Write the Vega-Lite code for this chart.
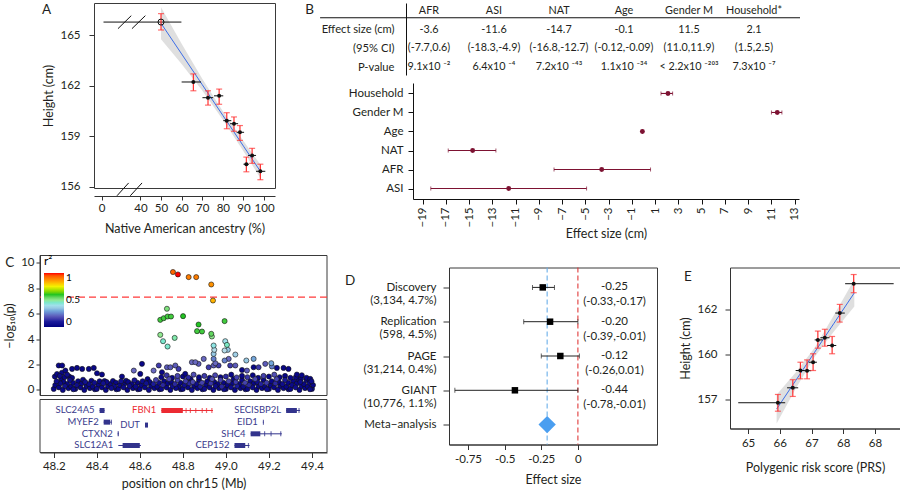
{
"$schema": "https://vega.github.io/schema/vega-lite/v6.json",
"padding": {"left": 0, "top": 0, "right": 0, "bottom": 0},
"bounds": "full",
"spacing": 6.5,
"config": {
  "font": "Lato",
  "view": {"stroke": "#3a3a3a", "strokeWidth": 1},
  "axis": {"grid": false, "labelFontSize": 11.5, "titleFontSize": 12.5, "titleFontWeight": "normal", "labelColor": "#231f20", "titleColor": "#231f20", "tickColor": "#333333", "domainColor": "#333333", "labelFont": "Lato", "titleFont": "Lato", "labelOverlap": false},
  "text": {"font": "Lato", "color": "#231f20"}
},
"datasets": {
  "bandA": [
    {"x": 50, "fit": 165.7, "lo": 164.75, "hi": 166.65},
    {"x": 60, "fit": 163.88, "lo": 163.28, "hi": 164.48},
    {"x": 70, "fit": 162.06, "lo": 161.71, "hi": 162.41},
    {"x": 80, "fit": 160.24, "lo": 159.99, "hi": 160.49},
    {"x": 90, "fit": 158.42, "lo": 158.12, "hi": 158.72},
    {"x": 98.2, "fit": 156.93, "lo": 156.53, "hi": 157.33}
  ],
  "ptsA": [
    {"x": 50, "y": 165.77, "xlo": 2, "xhi": 59.9, "ylo": 165.3, "yhi": 166.27, "open": true},
    {"x": 65.7, "y": 162.22, "xlo": 60, "xhi": 69.4, "ylo": 161.7, "yhi": 162.7, "open": false},
    {"x": 72.8, "y": 161.29, "xlo": 70.1, "xhi": 75.3, "ylo": 160.85, "yhi": 161.7, "open": false},
    {"x": 78.2, "y": 161.4, "xlo": 75.7, "xhi": 80.2, "ylo": 160.9, "yhi": 161.8, "open": false},
    {"x": 81.9, "y": 159.93, "xlo": 80.2, "xhi": 84.1, "ylo": 159.45, "yhi": 160.4, "open": false},
    {"x": 85.4, "y": 159.75, "xlo": 83.5, "xhi": 87.4, "ylo": 159.3, "yhi": 160.15, "open": false},
    {"x": 88.3, "y": 159.24, "xlo": 86.7, "xhi": 90.3, "ylo": 158.76, "yhi": 159.64, "open": false},
    {"x": 94.2, "y": 157.87, "xlo": 92.2, "xhi": 96.1, "ylo": 157.4, "yhi": 158.29, "open": false},
    {"x": 91.4, "y": 157.35, "xlo": 90, "xhi": 92.6, "ylo": 156.9, "yhi": 157.77, "open": false},
    {"x": 98.2, "y": 156.93, "xlo": 96.1, "xhi": 100.6, "ylo": 156.43, "yhi": 157.35, "open": false}
  ],
  "brkA": [
    {"x1": 16.9, "x2": 30.6, "y1": 165.38, "y2": 166.15},
    {"x1": 31.3, "x2": 42.4, "y1": 165.38, "y2": 166.15},
    {"x1": 15.9, "x2": 27.9, "y1": 155.48, "y2": 156.24},
    {"x1": 29.6, "x2": 40.8, "y1": 155.48, "y2": 156.24}
  ],
  "tab": [
    {"col": "AFR", "row": "hdr", "txt": "AFR"},
    {"col": "ASI", "row": "hdr", "txt": "ASI"},
    {"col": "NAT", "row": "hdr", "txt": "NAT"},
    {"col": "Age", "row": "hdr", "txt": "Age"},
    {"col": "Gender M", "row": "hdr", "txt": "Gender M"},
    {"col": "Household*", "row": "hdr", "txt": "Household*"},
    {"col": "AFR", "row": "Effect size (cm)", "txt": "-3.6"},
    {"col": "ASI", "row": "Effect size (cm)", "txt": "-11.6"},
    {"col": "NAT", "row": "Effect size (cm)", "txt": "-14.7"},
    {"col": "Age", "row": "Effect size (cm)", "txt": "-0.1"},
    {"col": "Gender M", "row": "Effect size (cm)", "txt": "11.5"},
    {"col": "Household*", "row": "Effect size (cm)", "txt": "2.1"},
    {"col": "AFR", "row": "(95% CI)", "txt": "(-7.7,0.6)"},
    {"col": "ASI", "row": "(95% CI)", "txt": "(-18.3,-4.9)"},
    {"col": "NAT", "row": "(95% CI)", "txt": "(-16.8,-12.7)"},
    {"col": "Age", "row": "(95% CI)", "txt": "(-0.12,-0.09)"},
    {"col": "Gender M", "row": "(95% CI)", "txt": "(11.0,11.9)"},
    {"col": "Household*", "row": "(95% CI)", "txt": "(1.5,2.5)"},
    {"col": "AFR", "row": "P-value", "txt": "9.1x10 ⁻²"},
    {"col": "ASI", "row": "P-value", "txt": "6.4x10 ⁻⁴"},
    {"col": "NAT", "row": "P-value", "txt": "7.2x10 ⁻⁴³"},
    {"col": "Age", "row": "P-value", "txt": "1.1x10 ⁻³⁴"},
    {"col": "Gender M", "row": "P-value", "txt": "< 2.2x10 ⁻²⁰³"},
    {"col": "Household*", "row": "P-value", "txt": "7.3x10 ⁻⁷"}
  ],
  "fB": [
    {"v": "Household", "est": 2.1, "lo": 1.5, "hi": 2.5},
    {"v": "Gender M", "est": 11.5, "lo": 11.0, "hi": 11.9},
    {"v": "Age", "est": -0.1, "lo": -0.12, "hi": -0.09},
    {"v": "NAT", "est": -14.7, "lo": -16.8, "hi": -12.7},
    {"v": "AFR", "est": -3.6, "lo": -7.7, "hi": 0.6},
    {"v": "ASI", "est": -11.6, "lo": -18.3, "hi": -4.9}
  ],
  "snp": [
    {"x":48.200,"y":0.08,"r":0.03},{"x":48.207,"y":0.38,"r":0.03},{"x":48.213,"y":0.68,"r":0.05},
    {"x":48.224,"y":0.20,"r":0.03},{"x":48.230,"y":0.52,"r":0.04},{"x":48.236,"y":0.85,"r":0.03},
    {"x":48.242,"y":0.00,"r":0.03},{"x":48.252,"y":0.30,"r":0.06},{"x":48.246,"y":0.62,"r":0.03},
    {"x":48.268,"y":0.14,"r":0.03},{"x":48.263,"y":0.46,"r":0.03},{"x":48.275,"y":0.78,"r":0.05},
    {"x":48.291,"y":0.05,"r":0.04},{"x":48.281,"y":0.26,"r":0.03},{"x":48.289,"y":0.56,"r":0.03},
    {"x":48.300,"y":0.08,"r":0.03},{"x":48.307,"y":0.38,"r":0.05},{"x":48.313,"y":0.68,"r":0.03},
    {"x":48.324,"y":0.20,"r":0.03},{"x":48.330,"y":0.52,"r":0.03},{"x":48.336,"y":0.80,"r":0.04},
    {"x":48.342,"y":0.00,"r":0.03},{"x":48.352,"y":0.30,"r":0.03},{"x":48.346,"y":0.62,"r":0.06},
    {"x":48.368,"y":0.14,"r":0.03},{"x":48.363,"y":0.46,"r":0.04},{"x":48.375,"y":0.72,"r":0.03},
    {"x":48.391,"y":0.05,"r":0.03},{"x":48.381,"y":0.26,"r":0.03},{"x":48.389,"y":0.56,"r":0.05},
    {"x":48.400,"y":0.08,"r":0.04},{"x":48.407,"y":0.38,"r":0.03},{"x":48.413,"y":0.68,"r":0.03},
    {"x":48.424,"y":0.20,"r":0.03},{"x":48.430,"y":0.52,"r":0.06},{"x":48.436,"y":0.70,"r":0.03},
    {"x":48.442,"y":0.00,"r":0.03},{"x":48.452,"y":0.30,"r":0.03},{"x":48.446,"y":0.62,"r":0.04},
    {"x":48.468,"y":0.14,"r":0.05},{"x":48.463,"y":0.46,"r":0.03},{"x":48.475,"y":0.70,"r":0.03},
    {"x":48.491,"y":0.05,"r":0.03},{"x":48.481,"y":0.26,"r":0.04},{"x":48.489,"y":0.56,"r":0.03},
    {"x":48.500,"y":0.08,"r":0.03},{"x":48.507,"y":0.38,"r":0.03},{"x":48.513,"y":0.68,"r":0.06},
    {"x":48.524,"y":0.20,"r":0.04},{"x":48.530,"y":0.52,"r":0.03},{"x":48.536,"y":0.72,"r":0.03},
    {"x":48.542,"y":0.00,"r":0.03},{"x":48.552,"y":0.30,"r":0.05},{"x":48.546,"y":0.62,"r":0.03},
    {"x":48.568,"y":0.14,"r":0.03},{"x":48.563,"y":0.46,"r":0.03},{"x":48.575,"y":0.75,"r":0.08},
    {"x":48.591,"y":0.05,"r":0.03},{"x":48.581,"y":0.26,"r":0.04},{"x":48.589,"y":0.56,"r":0.03},
    {"x":48.600,"y":0.08,"r":0.03},{"x":48.607,"y":0.38,"r":0.03},{"x":48.613,"y":0.68,"r":0.05},
    {"x":48.624,"y":0.20,"r":0.03},{"x":48.630,"y":0.52,"r":0.06},{"x":48.636,"y":0.85,"r":0.03},
    {"x":48.642,"y":0.00,"r":0.04},{"x":48.652,"y":0.30,"r":0.03},{"x":48.646,"y":0.62,"r":0.03},
    {"x":48.668,"y":0.14,"r":0.03},{"x":48.663,"y":0.46,"r":0.10},{"x":48.675,"y":0.78,"r":0.16},
    {"x":48.691,"y":0.05,"r":0.03},{"x":48.681,"y":0.26,"r":0.03},{"x":48.689,"y":0.56,"r":0.05},
    {"x":48.700,"y":0.08,"r":0.04},{"x":48.707,"y":0.38,"r":0.12},{"x":48.713,"y":0.68,"r":0.03},
    {"x":48.724,"y":0.20,"r":0.03},{"x":48.730,"y":0.52,"r":0.03},{"x":48.736,"y":0.85,"r":0.17},
    {"x":48.742,"y":0.00,"r":0.03},{"x":48.752,"y":0.30,"r":0.05},{"x":48.746,"y":0.62,"r":0.03},
    {"x":48.768,"y":0.14,"r":0.04},{"x":48.763,"y":0.46,"r":0.12},{"x":48.775,"y":0.78,"r":0.16},
    {"x":48.791,"y":0.05,"r":0.03},{"x":48.781,"y":0.26,"r":0.03},{"x":48.789,"y":0.56,"r":0.03},
    {"x":48.800,"y":0.08,"r":0.03},{"x":48.807,"y":0.38,"r":0.06},{"x":48.813,"y":0.68,"r":0.15},
    {"x":48.824,"y":0.20,"r":0.03},{"x":48.830,"y":0.52,"r":0.12},{"x":48.836,"y":0.85,"r":0.03},
    {"x":48.842,"y":0.00,"r":0.04},{"x":48.852,"y":0.30,"r":0.03},{"x":48.846,"y":0.62,"r":0.17},
    {"x":48.868,"y":0.14,"r":0.03},{"x":48.863,"y":0.46,"r":0.05},{"x":48.875,"y":0.78,"r":0.03},
    {"x":48.891,"y":0.05,"r":0.03},{"x":48.881,"y":0.26,"r":0.10},{"x":48.889,"y":0.56,"r":0.16},
    {"x":48.900,"y":0.08,"r":0.05},{"x":48.907,"y":0.38,"r":0.03},{"x":48.913,"y":0.68,"r":0.03},
    {"x":48.924,"y":0.20,"r":0.03},{"x":48.930,"y":0.52,"r":0.14},{"x":48.936,"y":0.85,"r":0.18},
    {"x":48.942,"y":0.00,"r":0.03},{"x":48.952,"y":0.30,"r":0.04},{"x":48.946,"y":0.62,"r":0.03},
    {"x":48.968,"y":0.14,"r":0.03},{"x":48.963,"y":0.46,"r":0.03},{"x":48.975,"y":0.78,"r":0.16},
    {"x":48.991,"y":0.05,"r":0.04},{"x":48.981,"y":0.26,"r":0.12},{"x":48.989,"y":0.56,"r":0.03},
    {"x":49.000,"y":0.08,"r":0.03},{"x":49.007,"y":0.38,"r":0.03},{"x":49.013,"y":0.68,"r":0.17},
    {"x":49.024,"y":0.20,"r":0.05},{"x":49.030,"y":0.52,"r":0.03},{"x":49.036,"y":0.85,"r":0.03},
    {"x":49.042,"y":0.00,"r":0.03},{"x":49.052,"y":0.30,"r":0.10},{"x":49.046,"y":0.62,"r":0.15},
    {"x":49.068,"y":0.14,"r":0.03},{"x":49.063,"y":0.46,"r":0.03},{"x":49.075,"y":0.78,"r":0.03},
    {"x":49.091,"y":0.05,"r":0.03},{"x":49.081,"y":0.26,"r":0.04},{"x":49.089,"y":0.56,"r":0.16},
    {"x":49.100,"y":0.08,"r":0.03},{"x":49.107,"y":0.38,"r":0.12},{"x":49.113,"y":0.68,"r":0.03},
    {"x":49.124,"y":0.20,"r":0.04},{"x":49.130,"y":0.52,"r":0.03},{"x":49.136,"y":0.85,"r":0.17},
    {"x":49.142,"y":0.00,"r":0.03},{"x":49.152,"y":0.30,"r":0.03},{"x":49.146,"y":0.62,"r":0.05},
    {"x":49.168,"y":0.14,"r":0.03},{"x":49.163,"y":0.46,"r":0.11},{"x":49.175,"y":0.78,"r":0.03},
    {"x":49.191,"y":0.05,"r":0.05},{"x":49.181,"y":0.26,"r":0.03},{"x":49.189,"y":0.56,"r":0.15},
    {"x":49.200,"y":0.08,"r":0.03},{"x":49.207,"y":0.38,"r":0.03},{"x":49.213,"y":0.68,"r":0.03},
    {"x":49.224,"y":0.20,"r":0.03},{"x":49.230,"y":0.52,"r":0.12},{"x":49.236,"y":0.85,"r":0.16},
    {"x":49.242,"y":0.00,"r":0.04},{"x":49.252,"y":0.30,"r":0.03},{"x":49.246,"y":0.62,"r":0.03},
    {"x":49.268,"y":0.14,"r":0.03},{"x":49.263,"y":0.46,"r":0.05},{"x":49.275,"y":0.78,"r":0.10},
    {"x":49.291,"y":0.05,"r":0.03},{"x":49.281,"y":0.26,"r":0.03},{"x":49.289,"y":0.56,"r":0.03},
    {"x":49.300,"y":0.08,"r":0.03},{"x":49.307,"y":0.38,"r":0.04},{"x":49.313,"y":0.68,"r":0.03},
    {"x":49.324,"y":0.20,"r":0.05},{"x":49.330,"y":0.52,"r":0.03},{"x":49.336,"y":0.85,"r":0.03},
    {"x":49.342,"y":0.00,"r":0.03},{"x":49.352,"y":0.30,"r":0.03},{"x":49.346,"y":0.62,"r":0.04},
    {"x":49.368,"y":0.14,"r":0.03},{"x":49.363,"y":0.46,"r":0.03},{"x":49.375,"y":0.78,"r":0.03},
    {"x":49.391,"y":0.05,"r":0.04},{"x":49.381,"y":0.26,"r":0.03},{"x":49.389,"y":0.56,"r":0.03},
    {"x":49.400,"y":0.08,"r":0.03},{"x":49.405,"y":0.38,"r":0.03},{"x":49.398,"y":0.68,"r":0.05},
    {"x":48.205,"y":1.05,"r":0.03},{"x":48.215,"y":1.25,"r":0.03},{"x":48.228,"y":1.10,"r":0.04},
    {"x":48.238,"y":1.35,"r":0.03},{"x":48.250,"y":1.00,"r":0.03},{"x":48.262,"y":1.20,"r":0.05},
    {"x":48.272,"y":1.05,"r":0.03},{"x":48.285,"y":0.95,"r":0.03},
    {"x":48.700,"y":1.00,"r":0.03},{"x":48.725,"y":1.15,"r":0.14},{"x":48.750,"y":0.95,"r":0.03},
    {"x":48.775,"y":1.10,"r":0.17},{"x":48.800,"y":1.05,"r":0.03},{"x":48.825,"y":0.98,"r":0.12},
    {"x":48.850,"y":1.20,"r":0.18},{"x":48.875,"y":1.00,"r":0.03},{"x":48.900,"y":1.10,"r":0.15},
    {"x":48.925,"y":0.95,"r":0.03},{"x":48.950,"y":1.15,"r":0.17},{"x":48.975,"y":1.00,"r":0.03},
    {"x":49.000,"y":1.05,"r":0.12},{"x":49.025,"y":1.20,"r":0.03},{"x":49.050,"y":0.98,"r":0.16},
    {"x":49.075,"y":1.10,"r":0.03},{"x":49.100,"y":1.00,"r":0.14},{"x":49.125,"y":1.15,"r":0.03},
    {"x":49.150,"y":0.95,"r":0.03},{"x":49.175,"y":1.10,"r":0.16},{"x":49.200,"y":1.05,"r":0.03},
    {"x":49.225,"y":1.20,"r":0.18},{"x":49.250,"y":1.00,"r":0.03},{"x":49.275,"y":1.10,"r":0.03},
    {"x":49.300,"y":0.95,"r":0.03},{"x":49.325,"y":1.00,"r":0.03},{"x":49.350,"y":0.90,"r":0.03},
    {"x":49.375,"y":0.95,"r":0.03},
    {"x":48.223,"y":1.92,"r":0.03},{"x":48.239,"y":1.92,"r":0.03},{"x":48.254,"y":1.52,"r":0.03},
    {"x":48.285,"y":1.65,"r":0.03},{"x":48.308,"y":1.73,"r":0.03},{"x":48.332,"y":1.65,"r":0.03},
    {"x":48.363,"y":1.65,"r":0.03},{"x":48.386,"y":1.73,"r":0.03},{"x":48.401,"y":1.31,"r":0.03},
    {"x":48.424,"y":1.21,"r":0.03},{"x":48.517,"y":1.05,"r":0.03},{"x":48.572,"y":1.52,"r":0.22},
    {"x":48.610,"y":2.05,"r":0.03},{"x":48.602,"y":1.26,"r":0.03},{"x":48.664,"y":1.52,"r":0.22},
    {"x":48.688,"y":1.92,"r":0.15},{"x":48.703,"y":1.39,"r":0.03},{"x":48.726,"y":1.78,"r":0.2},
    {"x":48.742,"y":1.78,"r":0.2},{"x":48.765,"y":1.92,"r":0.2},{"x":48.780,"y":1.65,"r":0.15},
    {"x":48.811,"y":1.26,"r":0.03},{"x":48.842,"y":2.18,"r":0.22},{"x":48.858,"y":2.18,"r":0.22},
    {"x":48.873,"y":2.05,"r":0.2},{"x":48.897,"y":2.44,"r":0.22},{"x":48.920,"y":1.78,"r":0.15},
    {"x":48.943,"y":1.92,"r":0.2},{"x":48.966,"y":1.92,"r":0.15},{"x":49.013,"y":2.44,"r":0.22},
    {"x":49.020,"y":1.92,"r":0.15},{"x":49.044,"y":1.92,"r":0.2},{"x":49.075,"y":1.57,"r":0.03},
    {"x":49.098,"y":1.52,"r":0.2},{"x":49.129,"y":1.78,"r":0.03},{"x":49.152,"y":1.78,"r":0.15},
    {"x":49.183,"y":2.05,"r":0.2},{"x":49.214,"y":1.84,"r":0.25},{"x":49.237,"y":1.73,"r":0.03},
    {"x":49.268,"y":1.73,"r":0.03},{"x":49.291,"y":1.65,"r":0.03},{"x":49.330,"y":1.21,"r":0.03},
    {"x":49.353,"y":1.15,"r":0.03},{"x":49.392,"y":0.87,"r":0.03},
    {"x":48.994,"y":2.31,"r":0.25},{"x":48.943,"y":2.44,"r":0.25},{"x":48.951,"y":2.10,"r":0.22},
    {"x":49.095,"y":2.31,"r":0.35},{"x":49.129,"y":2.44,"r":0.3},{"x":49.211,"y":2.10,"r":0.3},
    {"x":49.044,"y":2.78,"r":0.36},{"x":48.994,"y":3.10,"r":0.38},{"x":48.997,"y":3.83,"r":0.4},
    {"x":49.005,"y":3.54,"r":0.46},{"x":49.009,"y":3.15,"r":0.35},{"x":48.943,"y":3.49,"r":0.42},
    {"x":48.946,"y":3.15,"r":0.38},{"x":48.943,"y":2.83,"r":0.35},
    {"x":48.935,"y":4.20,"r":0.5},{"x":48.932,"y":4.41,"r":0.55},{"x":48.889,"y":4.59,"r":0.58},
    {"x":48.866,"y":4.62,"r":0.58},{"x":48.873,"y":5.14,"r":0.6},{"x":48.994,"y":5.41,"r":0.58},
    {"x":48.801,"y":5.80,"r":0.6},{"x":48.762,"y":4.09,"r":0.48},{"x":48.729,"y":3.41,"r":0.45},
    {"x":48.708,"y":3.83,"r":0.45},{"x":48.695,"y":4.33,"r":0.5},{"x":48.695,"y":5.51,"r":0.58},
    {"x":48.711,"y":5.64,"r":0.58},{"x":48.729,"y":5.77,"r":0.58},{"x":48.745,"y":5.77,"r":0.58},
    {"x":48.726,"y":6.38,"r":0.52},
    {"x":48.940,"y":7.03,"r":0.83},{"x":48.932,"y":8.29,"r":0.87},{"x":48.827,"y":8.87,"r":0.9},
    {"x":48.862,"y":8.87,"r":0.9},{"x":48.754,"y":9.27,"r":0.93},{"x":48.777,"y":9.08,"r":1.0}
  ],
  "genes": [
    {"g": "SLC24A5", "s": 48.413, "e": 48.436, "ds": 48.413, "de": 48.436, "track": 4},
    {"g": "FBN1", "s": 48.70, "e": 48.94, "ds": 48.70, "de": 48.80, "track": 4},
    {"g": "SECISBP2L", "s": 49.28, "e": 49.345, "ds": 49.28, "de": 49.33, "track": 4},
    {"g": "MYEF2", "s": 48.432, "e": 48.47, "ds": 48.432, "de": 48.462, "track": 3},
    {"g": "DUT", "s": 48.624, "e": 48.638, "ds": 48.624, "de": 48.638, "track": 2.75},
    {"g": "EID1", "s": 49.172, "e": 49.176, "ds": 49.172, "de": 49.176, "track": 3},
    {"g": "CTXN2", "s": 48.497, "e": 48.502, "ds": 48.497, "de": 48.502, "track": 2},
    {"g": "SHC4", "s": 49.115, "e": 49.26, "ds": 49.115, "de": 49.16, "track": 2},
    {"g": "SLC12A1", "s": 48.50, "e": 48.605, "ds": 48.52, "de": 48.60, "track": 1},
    {"g": "CEP152", "s": 49.04, "e": 49.11, "ds": 49.04, "de": 49.09, "track": 1}
  ],
  "exons": [
    {"g": "FBN1", "x": 48.815, "track": 4}, {"g": "FBN1", "x": 48.835, "track": 4},
    {"g": "FBN1", "x": 48.86, "track": 4}, {"g": "FBN1", "x": 48.89, "track": 4},
    {"g": "FBN1", "x": 48.91, "track": 4}, {"g": "FBN1", "x": 48.935, "track": 4},
    {"g": "SHC4", "x": 49.18, "track": 2}, {"g": "SHC4", "x": 49.21, "track": 2},
    {"g": "SHC4", "x": 49.255, "track": 2}, {"g": "SECISBP2L", "x": 49.34, "track": 4},
    {"g": "CEP152", "x": 49.105, "track": 1}, {"g": "MYEF2", "x": 48.468, "track": 3}
  ],
  "fD": [
    {"lab": "Discovery|(3,134, 4.7%)", "est": -0.24, "lo": -0.31, "hi": -0.16, "e": "-0.25", "ci": "(-0.33,-0.17)"},
    {"lab": "Replication|(598, 4.5%)", "est": -0.19, "lo": -0.37, "hi": 0.0, "e": "-0.20", "ci": "(-0.39,-0.01)"},
    {"lab": "PAGE|(31,214, 0.4%)", "est": -0.12, "lo": -0.25, "hi": 0.01, "e": "-0.12", "ci": "(-0.26,0.01)"},
    {"lab": "GIANT|(10,776, 1.1%)", "est": -0.43, "lo": -0.84, "hi": 0.0, "e": "-0.44", "ci": "(-0.78,-0.01)"}
  ],
  "metaD": [
    {"lab": "Meta−analysis", "est": -0.21}
  ],
  "bandE": [
    {"x": 65.9, "fit": 156.97, "lo": 156.17, "hi": 157.77},
    {"x": 66.5, "fit": 158.55, "lo": 158.1, "hi": 159.0},
    {"x": 67.1, "fit": 160.13, "lo": 159.88, "hi": 160.38},
    {"x": 67.7, "fit": 161.71, "lo": 161.26, "hi": 162.16},
    {"x": 68.35, "fit": 163.42, "lo": 162.67, "hi": 164.17}
  ],
  "ptsE": [
    {"x": 65.94, "y": 157.32, "xlo": 64.69, "xhi": 66.17, "ylo": 156.85, "yhi": 157.78},
    {"x": 66.41, "y": 158.15, "xlo": 66.23, "xhi": 66.58, "ylo": 157.67, "yhi": 158.6},
    {"x": 66.65, "y": 159.11, "xlo": 66.5, "xhi": 66.78, "ylo": 158.65, "yhi": 159.57},
    {"x": 66.86, "y": 159.1, "xlo": 66.75, "xhi": 66.99, "ylo": 158.65, "yhi": 159.7},
    {"x": 67.05, "y": 159.57, "xlo": 66.91, "xhi": 67.17, "ylo": 159.11, "yhi": 160.04},
    {"x": 67.2, "y": 160.81, "xlo": 67.1, "xhi": 67.35, "ylo": 160.35, "yhi": 161.3},
    {"x": 67.42, "y": 160.93, "xlo": 67.28, "xhi": 67.57, "ylo": 160.46, "yhi": 161.4},
    {"x": 67.65, "y": 160.5, "xlo": 67.49, "xhi": 67.78, "ylo": 160.04, "yhi": 161.0},
    {"x": 67.89, "y": 162.3, "xlo": 67.75, "xhi": 68.05, "ylo": 161.8, "yhi": 162.78},
    {"x": 68.33, "y": 163.93, "xlo": 68.06, "xhi": 69.59, "ylo": 163.43, "yhi": 164.44}
  ]
},
"vconcat": [
  {"hconcat": [
    {"width": 52, "height": 245, "view": {"stroke": null}, "data": {"values": [{"k": 0}]}, "mark": {"type": "point", "opacity": 0}},
    {"width": 181, "height": 185,
     "layer": [
       {"data": {"name": "bandA"}, "mark": {"type": "area", "color": "#c4c4c4", "opacity": 0.55},
        "encoding": {
          "x": {"field": "x", "type": "quantitative", "scale": {"domain": [-7.8, 40, 105.3], "range": [0, 46.4, 181], "nice": false, "zero": false},
                "axis": {"values": [0, 40, 50, 60, 70, 80, 90, 100], "format": "d", "tickCount": 20, "labelOverlap": false, "offset": 8, "tickSize": 4, "labelPadding": 2, "title": "Native American ancestry (%)", "titlePadding": 9}},
          "y": {"field": "lo", "type": "quantitative", "scale": {"domain": [155.94, 166.9], "nice": false, "zero": false},
                "axis": {"values": [156, 159, 162, 165], "format": "d", "tickCount": 20, "title": "Height (cm)", "domain": false, "tickSize": 5, "labelPadding": 9, "titlePadding": 4}},
          "y2": {"field": "hi"}}},
       {"data": {"name": "bandA"}, "mark": {"type": "line", "color": "#3d6ee8", "strokeWidth": 1},
        "encoding": {"x": {"field": "x", "type": "quantitative"}, "y": {"field": "fit", "type": "quantitative"}}},
       {"data": {"name": "ptsA"}, "mark": {"type": "rule", "color": "#111111", "strokeWidth": 1},
        "encoding": {"x": {"field": "xlo", "type": "quantitative"}, "x2": {"field": "xhi"}, "y": {"field": "y", "type": "quantitative"}}},
       {"data": {"name": "ptsA"}, "mark": {"type": "rule", "color": "#ff3030", "strokeWidth": 1.2},
        "encoding": {"x": {"field": "x", "type": "quantitative"}, "y": {"field": "ylo", "type": "quantitative"}, "y2": {"field": "yhi"}}},
       {"data": {"name": "ptsA"}, "mark": {"type": "tick", "orient": "horizontal", "size": 6, "thickness": 1.2, "color": "#ff3030"},
        "encoding": {"x": {"field": "x", "type": "quantitative"}, "y": {"field": "ylo", "type": "quantitative"}}},
       {"data": {"name": "ptsA"}, "mark": {"type": "tick", "orient": "horizontal", "size": 6, "thickness": 1.2, "color": "#ff3030"},
        "encoding": {"x": {"field": "x", "type": "quantitative"}, "y": {"field": "yhi", "type": "quantitative"}}},
       {"data": {"name": "ptsA"}, "transform": [{"filter": "!datum.open"}], "mark": {"type": "circle", "size": 16, "color": "#111111", "opacity": 1},
        "encoding": {"x": {"field": "x", "type": "quantitative"}, "y": {"field": "y", "type": "quantitative"}}},
       {"data": {"name": "ptsA"}, "transform": [{"filter": "datum.open"}], "mark": {"type": "point", "size": 36, "color": "#111111", "strokeWidth": 1, "filled": false, "opacity": 1},
        "encoding": {"x": {"field": "x", "type": "quantitative"}, "y": {"field": "y", "type": "quantitative"}}},
       {"data": {"name": "brkA"}, "mark": {"type": "rule", "color": "#111111", "strokeWidth": 1},
        "encoding": {"x": {"field": "x1", "type": "quantitative"}, "x2": {"field": "x2"}, "y": {"field": "y1", "type": "quantitative"}, "y2": {"field": "y2"}}},
       {"data": {"values": [{"k": 0}]}, "mark": {"type": "text", "text": "A", "fontSize": 13.5, "align": "left", "baseline": "middle"},
        "encoding": {"x": {"datum": -61.4, "type": "quantitative"}, "y": {"datum": 166.48, "type": "quantitative"}}}
     ]},
    {"width": 51, "height": 1, "view": {"stroke": null}, "data": {"values": [{"k": 0}]}, "mark": {"type": "point", "opacity": 0}},
    {"width": 394, "height": 196, "view": {"stroke": null},
     "resolve": {"scale": {"x": "independent", "y": "independent"}, "axis": {"x": "independent", "y": "independent"}},
     "layer": [
       {"data": {"name": "tab"}, "mark": {"type": "text", "fontSize": 10.8},
        "encoding": {
          "x": {"field": "col", "type": "nominal", "scale": {"type": "point", "domain": ["AFR", "ASI", "NAT", "Age", "Gender M", "Household*"], "padding": 0.53, "align": 0.333}, "axis": null},
          "y": {"field": "row", "type": "nominal", "scale": {"type": "point", "domain": ["hdr", "Effect size (cm)", "(95% CI)", "P-value"], "range": [0, 72], "padding": 0.4},
                "axis": {"orient": "left", "title": null, "ticks": false, "domain": true, "domainColor": "#111111", "labelPadding": 12, "labelExpr": "datum.value == 'hdr' ? '' : datum.label", "labelFontSize": 11.2}},
          "text": {"field": "txt"}}},
       {"data": {"values": [{"k": 0}]},
        "layer": [
          {"mark": {"type": "rule", "color": "#111111", "strokeWidth": 1},
           "encoding": {
             "x": {"datum": -0.218, "type": "quantitative", "scale": {"domain": [0, 1], "nice": false, "zero": false}, "axis": null},
             "x2": {"datum": 1},
             "y": {"datum": 0.205, "type": "quantitative", "scale": {"domain": [0, 1], "range": [0, 72], "nice": false, "zero": false}, "axis": null}}},
          {"mark": {"type": "text", "text": "B", "fontSize": 13.5, "align": "left", "baseline": "middle"},
           "encoding": {"x": {"datum": -0.256, "type": "quantitative"}, "y": {"datum": 0.1, "type": "quantitative"}}}
        ]},
       {"data": {"name": "fB"},
        "layer": [
          {"mark": {"type": "rule", "color": "#7d1232", "strokeWidth": 1.1},
           "encoding": {
             "x": {"field": "lo", "type": "quantitative", "scale": {"domain": [-19.83, 13.37], "range": [7, 393], "nice": false, "zero": false},
                   "axis": {"orient": "bottom", "values": [-19, -17, -15, -13, -11, -9, -7, -5, -3, -1, 1, 3, 5, 7, 9, 11, 13], "format": "d", "tickCount": 40, "labelOverlap": false, "labelAngle": 270, "tickSize": 5, "labelPadding": 3, "title": "Effect size (cm)", "titlePadding": 0, "domainColor": "#111111", "tickColor": "#111111"}},
             "x2": {"field": "hi"},
             "y": {"field": "v", "type": "nominal", "scale": {"type": "point", "domain": ["Household", "Gender M", "Age", "NAT", "AFR", "ASI"], "range": [80, 196], "padding": 0.55},
                   "axis": {"orient": "left", "offset": -7, "title": null, "tickSize": 5, "labelPadding": 5, "domainColor": "#111111", "tickColor": "#111111"}}}},
          {"mark": {"type": "tick", "orient": "vertical", "size": 4, "thickness": 1, "color": "#7d1232"},
           "encoding": {"x": {"field": "lo", "type": "quantitative"}, "y": {"field": "v", "type": "nominal"}}},
          {"mark": {"type": "tick", "orient": "vertical", "size": 4, "thickness": 1, "color": "#7d1232"},
           "encoding": {"x": {"field": "hi", "type": "quantitative"}, "y": {"field": "v", "type": "nominal"}}},
          {"mark": {"type": "circle", "size": 24, "color": "#7d1232", "opacity": 1},
           "encoding": {"x": {"field": "est", "type": "quantitative"}, "y": {"field": "v", "type": "nominal"}}}
        ]}
     ]}
  ], "spacing": 40, "bounds": "flush"},
  {"hconcat": [
    {"width": 2, "height": 1, "view": {"stroke": null}, "data": {"values": [{"k": 0}]}, "mark": {"type": "point", "opacity": 0}},
    {"width": 287, "height": 185, "view": {"stroke": null},
     "resolve": {"scale": {"y": "independent"}, "axis": {"y": "independent"}},
     "layer": [
       {"layer": [
         {"data": {"values": [{"k": 0}]}, "mark": {"type": "rect", "filled": false, "stroke": "#3a3a3a", "strokeWidth": 1},
          "encoding": {
            "x": {"datum": 48.136, "type": "quantitative", "scale": {"domain": [48.136, 49.47], "nice": false, "zero": false},
                  "axis": {"values": [48.2, 48.4, 48.6, 48.8, 49.0, 49.2, 49.4], "tickCount": 20, "format": ".1f", "tickSize": 5, "labelPadding": 3, "title": "position on chr15 (Mb)", "titlePadding": 5}},
            "x2": {"datum": 49.47},
            "y": {"datum": -0.44, "type": "quantitative", "scale": {"domain": [-0.44, 10.57], "range": [128, -12], "nice": false, "zero": false},
                  "axis": {"orient": "left", "values": [0, 2, 4, 6, 8, 10], "format": "d", "tickCount": 20, "title": "−log₁₀(p)", "tickSize": 4, "labelPadding": 2, "titlePadding": 4}},
            "y2": {"datum": 10.57}}},
         {"data": {"values": [{"k": 0}]}, "mark": {"type": "rule", "color": "#ff3a3a", "strokeDash": [7, 4], "strokeWidth": 1.2},
          "encoding": {"y": {"datum": 7.3, "type": "quantitative"}}},
         {"data": {"values": [{"k": 0}]}, "mark": {"type": "text", "text": "C", "fontSize": 13.5, "align": "left", "baseline": "middle"},
          "encoding": {"x": {"datum": 47.975, "type": "quantitative"}, "y": {"datum": 9.98, "type": "quantitative"}}},
         {"data": {"name": "snp"}, "mark": {"type": "point", "filled": true, "size": 26, "stroke": "#111111", "strokeWidth": 0.6, "opacity": 1},
          "encoding": {
            "x": {"field": "x", "type": "quantitative"},
            "y": {"field": "y", "type": "quantitative"},
            "fill": {"field": "r", "type": "quantitative",
                     "scale": {"domain": [0, 0.1, 0.22, 0.38, 0.5, 0.6, 0.75, 0.88, 1], "range": ["#000080", "#1a1a9a", "#6868c0", "#b4dcea", "#90e890", "#22c422", "#f2f200", "#ff8a00", "#ff0000"]},
                     "legend": {"orient": "none", "legendX": 42, "legendY": 253, "title": "r²", "titleFontSize": 12, "titleFontWeight": "normal", "titleFont": "Lato", "gradientLength": 54, "gradientThickness": 20, "values": [0, 0.5, 1], "format": ".1~f", "labelFontSize": 10, "labelFont": "Lato", "direction": "vertical", "gradientStrokeWidth": 0}},
            "order": {"field": "r", "type": "quantitative"}}}
       ]},
       {"layer": [
         {"data": {"values": [{"k": 0}]}, "mark": {"type": "rect", "filled": false, "stroke": "#3a3a3a", "strokeWidth": 1},
          "encoding": {
            "x": {"datum": 48.136, "type": "quantitative"},
            "x2": {"datum": 49.47},
            "y": {"datum": 0.4, "type": "quantitative", "scale": {"domain": [0.4, 4.94], "range": [185, 132], "nice": false, "zero": false}, "axis": null},
            "y2": {"datum": 4.94}}},
         {"data": {"name": "genes"}, "mark": {"type": "rule", "strokeWidth": 1},
          "encoding": {
            "x": {"field": "s", "type": "quantitative"}, "x2": {"field": "e"},
            "y": {"field": "track", "type": "quantitative"},
            "color": {"condition": {"test": "datum.g == 'FBN1'", "value": "#ec2a32"}, "value": "#32338c"}}},
         {"data": {"name": "genes"}, "mark": {"type": "rule", "strokeWidth": 5},
          "encoding": {
            "x": {"field": "ds", "type": "quantitative"}, "x2": {"field": "de"},
            "y": {"field": "track", "type": "quantitative"},
            "color": {"condition": {"test": "datum.g == 'FBN1'", "value": "#ec2a32"}, "value": "#32338c"}}},
         {"data": {"name": "exons"}, "mark": {"type": "tick", "orient": "vertical", "size": 5, "thickness": 1.2},
          "encoding": {
            "x": {"field": "x", "type": "quantitative"},
            "y": {"field": "track", "type": "quantitative"},
            "color": {"condition": {"test": "datum.g == 'FBN1'", "value": "#ec2a32"}, "value": "#32338c"}}},
         {"data": {"name": "genes"}, "mark": {"type": "text", "align": "right", "baseline": "middle", "dx": -5, "fontSize": 9.5},
          "encoding": {
            "x": {"field": "s", "type": "quantitative"},
            "y": {"field": "track", "type": "quantitative"},
            "text": {"field": "g"},
            "color": {"condition": {"test": "datum.g == 'FBN1'", "value": "#ec2a32"}, "value": "#3a3a8c"}}}
       ]}
     ]},
    {"width": 50, "height": 1, "view": {"stroke": null}, "data": {"values": [{"k": 0}]}, "mark": {"type": "point", "opacity": 0}},
    {"width": 208, "height": 177,
     "resolve": {"scale": {"y": "independent"}, "axis": {"y": "independent"}},
     "layer": [
       {"layer": [
         {"data": {"values": [{"k": 0}]}, "mark": {"type": "rule", "color": "#e03a3a", "strokeDash": [5, 3], "strokeWidth": 1.1},
          "encoding": {"x": {"datum": 0, "type": "quantitative"}}},
         {"data": {"values": [{"k": 0}]}, "mark": {"type": "rule", "color": "#6aaeea", "strokeDash": [5, 3], "strokeWidth": 1.1},
          "encoding": {"x": {"datum": -0.21, "type": "quantitative"}}},
         {"data": {"name": "fD"}, "mark": {"type": "rule", "color": "#222222", "strokeWidth": 1},
          "encoding": {
            "x": {"field": "lo", "type": "quantitative", "scale": {"domain": [-0.88, 0.54], "nice": false, "zero": false},
                  "axis": {"values": [-0.75, -0.5, -0.25, 0], "tickCount": 20, "labelExpr": "toString(datum.value)", "tickSize": 5, "labelPadding": 4, "title": "Effect size", "titlePadding": 8}},
            "x2": {"field": "hi"},
            "y": {"field": "lab", "type": "nominal", "scale": {"type": "point", "domain": ["Discovery|(3,134, 4.7%)", "Replication|(598, 4.5%)", "PAGE|(31,214, 0.4%)", "GIANT|(10,776, 1.1%)", "Meta−analysis"], "padding": 0.58},
                  "axis": {"orient": "left", "title": null, "labelExpr": "split(datum.label, '|')", "tickSize": 6, "labelPadding": 7, "labelLineHeight": 13}}}},
         {"data": {"name": "fD"}, "mark": {"type": "tick", "orient": "vertical", "size": 5, "thickness": 1, "color": "#222222"},
          "encoding": {"x": {"field": "lo", "type": "quantitative"}, "y": {"field": "lab", "type": "nominal"}}},
         {"data": {"name": "fD"}, "mark": {"type": "tick", "orient": "vertical", "size": 5, "thickness": 1, "color": "#222222"},
          "encoding": {"x": {"field": "hi", "type": "quantitative"}, "y": {"field": "lab", "type": "nominal"}}},
         {"data": {"name": "fD"}, "mark": {"type": "square", "size": 42, "color": "#000000", "opacity": 1},
          "encoding": {"x": {"field": "est", "type": "quantitative"}, "y": {"field": "lab", "type": "nominal"}}},
         {"data": {"name": "metaD"}, "mark": {"type": "point", "shape": "diamond", "size": 300, "filled": true, "color": "#4a9ef0", "opacity": 1},
          "encoding": {"x": {"field": "est", "type": "quantitative"}, "y": {"field": "lab", "type": "nominal"}}},
         {"data": {"name": "fD"}, "mark": {"type": "text", "fontSize": 11.5, "baseline": "middle"},
          "encoding": {"x": {"datum": 0.25, "type": "quantitative"}, "y": {"field": "lab", "type": "nominal"}, "text": {"field": "e"}}},
         {"data": {"name": "fD"}, "mark": {"type": "text", "fontSize": 11.5, "baseline": "middle", "dy": 15},
          "encoding": {"x": {"datum": 0.25, "type": "quantitative"}, "y": {"field": "lab", "type": "nominal"}, "text": {"field": "ci"}}}
       ]},
       {"data": {"values": [{"k": 0}]}, "mark": {"type": "text", "text": "D", "fontSize": 13.5, "align": "left", "baseline": "middle"},
        "encoding": {"x": {"datum": -1.59, "type": "quantitative"}, "y": {"datum": 0.924, "type": "quantitative", "scale": {"domain": [0, 1], "nice": false, "zero": false}, "axis": null}}}
     ]},
    {"width": 1, "height": 1, "view": {"stroke": null}, "data": {"values": [{"k": 0}]}, "mark": {"type": "point", "opacity": 0}},
    {"width": 170, "height": 161,
     "layer": [
       {"data": {"name": "bandE"}, "mark": {"type": "area", "color": "#c4c4c4", "opacity": 0.55},
        "encoding": {
          "x": {"field": "x", "type": "quantitative", "scale": {"domain": [64.43, 69.79], "nice": false, "zero": false},
                "axis": {"values": [65, 66, 67, 68, 69], "format": "d", "tickCount": 20, "labelExpr": "datum.value == 69 ? '68' : datum.label", "tickSize": 5, "labelPadding": 4, "title": "Polygenic risk score (PRS)", "titlePadding": 12}},
          "y": {"field": "lo", "type": "quantitative", "scale": {"domain": [155.89, 164.83], "nice": false, "zero": false},
                "axis": {"values": [157.5, 160, 162.5], "format": "d", "tickCount": 20, "labelExpr": "datum.value == 157.5 ? '157' : datum.value == 162.5 ? '162' : datum.label", "title": "Height (cm)", "tickSize": 5, "labelPadding": 8, "titlePadding": 4}},
          "y2": {"field": "hi"}}},
       {"data": {"name": "bandE"}, "mark": {"type": "line", "color": "#3d6ee8", "strokeWidth": 1},
        "encoding": {"x": {"field": "x", "type": "quantitative"}, "y": {"field": "fit", "type": "quantitative"}}},
       {"data": {"name": "ptsE"}, "mark": {"type": "rule", "color": "#111111", "strokeWidth": 1},
        "encoding": {"x": {"field": "xlo", "type": "quantitative"}, "x2": {"field": "xhi"}, "y": {"field": "y", "type": "quantitative"}}},
       {"data": {"name": "ptsE"}, "mark": {"type": "rule", "color": "#ff3030", "strokeWidth": 1.2},
        "encoding": {"x": {"field": "x", "type": "quantitative"}, "y": {"field": "ylo", "type": "quantitative"}, "y2": {"field": "yhi"}}},
       {"data": {"name": "ptsE"}, "mark": {"type": "tick", "orient": "horizontal", "size": 6, "thickness": 1.2, "color": "#ff3030"},
        "encoding": {"x": {"field": "x", "type": "quantitative"}, "y": {"field": "ylo", "type": "quantitative"}}},
       {"data": {"name": "ptsE"}, "mark": {"type": "tick", "orient": "horizontal", "size": 6, "thickness": 1.2, "color": "#ff3030"},
        "encoding": {"x": {"field": "x", "type": "quantitative"}, "y": {"field": "yhi", "type": "quantitative"}}},
       {"data": {"name": "ptsE"}, "mark": {"type": "circle", "size": 16, "color": "#111111", "opacity": 1},
        "encoding": {"x": {"field": "x", "type": "quantitative"}, "y": {"field": "y", "type": "quantitative"}}},
       {"data": {"values": [{"k": 0}]}, "mark": {"type": "text", "text": "E", "fontSize": 13.5, "align": "left", "baseline": "middle"},
        "encoding": {"x": {"datum": 62.98, "type": "quantitative"}, "y": {"datum": 164.33, "type": "quantitative"}}}
     ]}
  ], "spacing": 36, "bounds": "flush"}
]
}
